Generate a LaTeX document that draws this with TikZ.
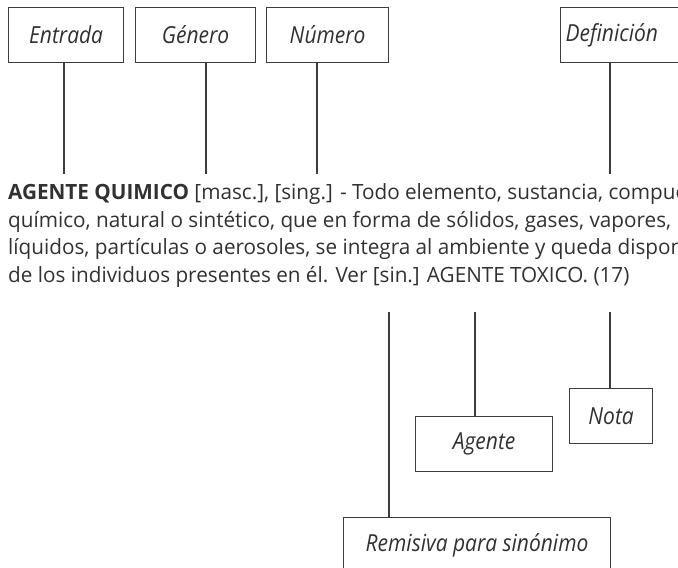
\documentclass[tikz,border=0pt]{standalone}
\usepackage{fontspec}
\setmainfont{Open Sans}
\usepackage{graphicx}
\usepackage{xcolor}
\usetikzlibrary{positioning}

\definecolor{inkgray}{HTML}{333031}
\definecolor{linegray}{HTML}{3C3C3C}

\newlength\fitwd
\newcommand\entryfont{\fontsize{21}{27.7}\selectfont}
\newcommand\labelfont{\fontsize{23.5}{28}\selectfont\itshape}
\newcommand\entrytext[1]{\scalebox{\entryscale}[1]{#1}}
\newcommand\boxtext[1]{\scalebox{\labelscale}[1]{#1}}

\begin{document}
% condensed widths, taken from one line of each kind
\settowidth\fitwd{\entryfont químico, natural o sintético, que en forma de sólidos, gases, vapores,}%
\pgfmathsetmacro\entryscale{663/\fitwd}%
\settowidth\fitwd{\labelfont Entrada}%
\pgfmathsetmacro\labelscale{74/\fitwd}%
\begin{tikzpicture}[
			x=1pt, y=-1pt,
			labelbox/.style = {rectangle, draw=linegray, line width=1.2pt, inner sep=0pt,
					minimum height=55pt, anchor=north west, text=inkgray, font=\labelfont},
			entryline/.style = {anchor=base west, inner sep=0pt, text=inkgray, font=\entryfont},
			line/.style = {draw=linegray, line width=1.2pt},
		]
		\useasboundingbox (0,0) rectangle (678,568);
		\clip (0,0) rectangle (678,568);

		% Upper label boxes
		\node [labelbox, minimum width=115pt] (entrada) at (8,7) {\boxtext{Entrada}};
		\node [labelbox, minimum width=120pt] (genero) at (135,7) {\boxtext{Género}};
		\node [labelbox, minimum width=122pt] (numero) at (266,7) {\boxtext{Número}};
		\node [labelbox, text width=150pt, align=left, inner xsep=5pt] (definicion) at (560,7) {\boxtext{Definición}};

		% Dictionary entry
		\node [entryline] (line1) at (8,199) {\entrytext{\textbf{AGENTE QUIMICO} [masc.], [sing.] - Todo elemento, sustancia, compuesto}};
		\node [entryline] (line2) at (8,227) {\entrytext{químico, natural o sintético, que en forma de sólidos, gases, vapores,}};
		\node [entryline] (line3) at (8,254.5) {\entrytext{líquidos, partículas o aerosoles, se integra al ambiente y queda disponible}};
		\node [entryline] (line4) at (8,282) {\entrytext{de los individuos presentes en él. Ver [sin.] AGENTE TOXICO. (17)}};

		% Lower label boxes
		\node [labelbox, minimum width=137pt] (agente) at (415,416) {\boxtext{Agente}};
		\node [labelbox, minimum width=83pt] (nota) at (569,388) {\boxtext{Nota}};
		\node [labelbox, minimum width=267pt] (remisiva) at (343,517) {\boxtext{Remisiva para sinónimo}};

		% Connector ends
		\coordinate (entradaend) at (64,174);
		\coordinate (generoend) at (206,174);
		\coordinate (numeroend) at (317,174);
		\coordinate (definicionend) at (610,174);
		\coordinate (remisivaend) at (389,312);
		\coordinate (agenteend) at (475,312);
		\coordinate (notaend) at (610,312);

		% Draw connectors
		\path [line] (entrada.south -| entradaend) -- (entradaend);
		\path [line] (genero.south -| generoend) -- (generoend);
		\path [line] (numero.south -| numeroend) -- (numeroend);
		\path [line] (definicion.south -| definicionend) -- (definicionend);
		\path [line] (remisiva.north -| remisivaend) -- (remisivaend);
		\path [line] (agente.north -| agenteend) -- (agenteend);
		\path [line] (nota.north -| notaend) -- (notaend);

	\end{tikzpicture}
\end{document}
